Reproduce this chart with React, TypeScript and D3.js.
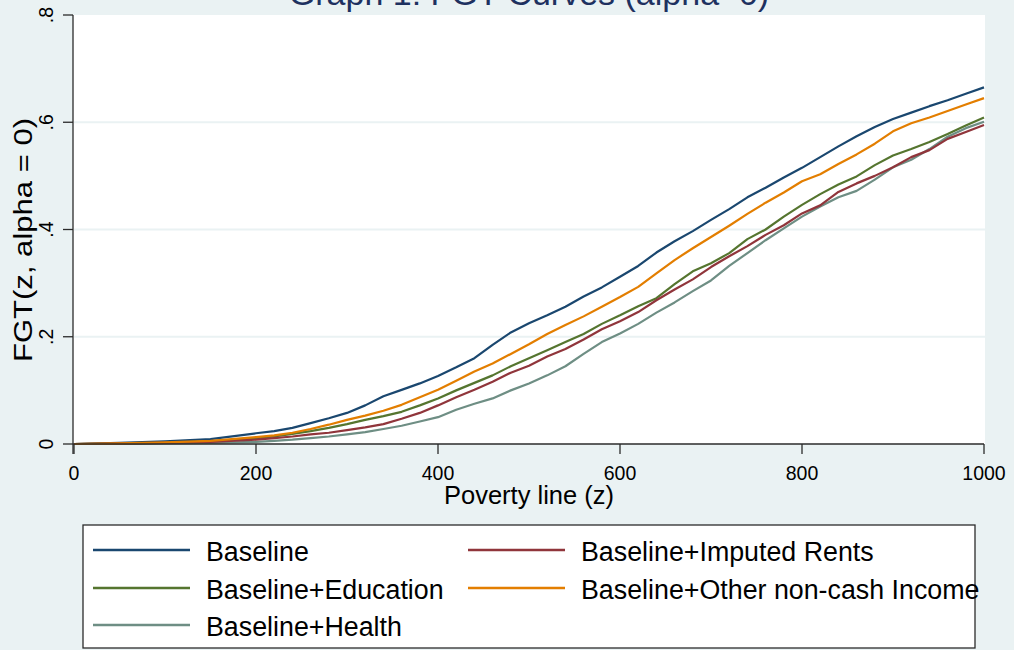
import React from "react";
import * as d3 from "d3";

const xValues = [0, 50, 100, 150, 200, 220, 240, 260, 280, 300, 320, 340, 360, 380, 400, 420, 440, 460, 480, 500, 520, 540, 560, 580, 600, 620, 640, 660, 680, 700, 720, 740, 760, 780, 800, 820, 840, 860, 880, 900, 920, 940, 960, 980, 1000];

const baseline = [0, 0.002, 0.005, 0.009, 0.02, 0.024, 0.03, 0.039, 0.048, 0.058, 0.072, 0.089, 0.101, 0.113, 0.127, 0.143, 0.16, 0.185, 0.208, 0.225, 0.24, 0.256, 0.275, 0.292, 0.312, 0.332, 0.357, 0.378, 0.397, 0.418, 0.438, 0.46, 0.478, 0.497, 0.515, 0.535, 0.555, 0.574, 0.591, 0.606, 0.618, 0.63, 0.641, 0.653, 0.665];
const imputedRents = [0, 0.001, 0.002, 0.004, 0.008, 0.011, 0.014, 0.018, 0.021, 0.026, 0.031, 0.037, 0.047, 0.058, 0.072, 0.087, 0.101, 0.116, 0.133, 0.146, 0.163, 0.177, 0.195, 0.214, 0.229, 0.246, 0.268, 0.288, 0.307, 0.33, 0.35, 0.369, 0.39, 0.408, 0.43, 0.445, 0.47, 0.486, 0.5, 0.516, 0.535, 0.548, 0.569, 0.582, 0.595];
const education = [0, 0.001, 0.002, 0.005, 0.011, 0.014, 0.019, 0.024, 0.03, 0.037, 0.045, 0.052, 0.06, 0.072, 0.085, 0.1, 0.114, 0.128, 0.145, 0.16, 0.175, 0.19, 0.205, 0.224, 0.24, 0.257, 0.272, 0.298, 0.322, 0.337, 0.356, 0.382, 0.4, 0.424, 0.446, 0.466, 0.484, 0.499, 0.52, 0.538, 0.55, 0.563, 0.578, 0.594, 0.609];
const otherNonCash = [0, 0.001, 0.003, 0.006, 0.013, 0.016, 0.021, 0.028, 0.036, 0.045, 0.053, 0.062, 0.073, 0.087, 0.101, 0.118, 0.135, 0.15, 0.168, 0.186, 0.205, 0.222, 0.238, 0.256, 0.274, 0.293, 0.318, 0.343, 0.365, 0.386, 0.407, 0.429, 0.45, 0.469, 0.49, 0.503, 0.522, 0.54, 0.56, 0.583, 0.598, 0.609, 0.621, 0.633, 0.645];
const health = [0, 0, 0.001, 0.002, 0.004, 0.006, 0.008, 0.011, 0.014, 0.018, 0.022, 0.028, 0.034, 0.042, 0.05, 0.064, 0.075, 0.085, 0.1, 0.113, 0.128, 0.145, 0.168, 0.19, 0.206, 0.224, 0.245, 0.264, 0.285, 0.305, 0.332, 0.356, 0.38, 0.402, 0.424, 0.443, 0.46, 0.472, 0.493, 0.516, 0.53, 0.55, 0.573, 0.589, 0.601];

const seriesNames = ["Baseline", "Baseline+Imputed Rents", "Baseline+Education", "Baseline+Other non-cash Income", "Baseline+Health"];
const seriesColors = ["#1a476f", "#90353b", "#55752f", "#e37e00", "#6e8e84"];
const seriesValues = [baseline, imputedRents, education, otherNonCash, health];
const drawOrder = [0, 2, 4, 1, 3];

const xTicks = [0, 200, 400, 600, 800, 1000];
const yTicks = [0, 0.2, 0.4, 0.6, 0.8];
const yTickLabels = ["0", ".2", ".4", ".6", ".8"];
const gridTicks = [0.2, 0.4, 0.6];

const titleText = "Graph 1: FGT Curves (alpha=0)";
const xTitle = "Poverty line (z)";
const yTitle = "FGT(z, alpha = 0)";

export default function App() {
  const W = 1014;
  const H = 650;
  const x = d3.scaleLinear().domain([0, 1000]).range([74, 984]);
  const y = d3.scaleLinear().domain([0, 0.8]).range([444, 15]);
  const line = d3
    .line<[number, number]>()
    .x((d) => x(d[0]))
    .y((d) => y(d[1]));

  const font = "'Liberation Sans', Arial, Helvetica, sans-serif";
  const axisColor = "#2b2b2b";

  const legendItems = [
    { i: 0, col: 0, row: 0 },
    { i: 1, col: 1, row: 0 },
    { i: 2, col: 0, row: 1 },
    { i: 3, col: 1, row: 1 },
    { i: 4, col: 0, row: 2 },
  ];
  const colX = [93, 468];
  const rowY = [550, 588, 625];

  return (
    <div style={{ position: "absolute", left: 0, top: 0, width: W, height: H }}>
      <svg width={W} height={H} style={{ display: "block" }} fontFamily={font}>
        <rect x={0} y={0} width={W} height={H} fill="#eaf2f3" />
        <text x={529} y={4.5} textAnchor="middle" fontSize={34} fill="#1e3160">
          {titleText}
        </text>
        <rect x={73} y={y(0.8)} width={x(1000) + 1 - 73} height={y(0) - y(0.8)} fill="#ffffff" />
        {gridTicks.map((t) => (
          <line key={t} x1={74} x2={x(1000) + 1} y1={y(t)} y2={y(t)} stroke="#eaf2f3" strokeWidth={2} />
        ))}
        {drawOrder.map((si) => (
          <path
            key={si}
            d={line(xValues.map((xv, k) => [xv, seriesValues[si][k]]) as [number, number][]) || ""}
            fill="none"
            stroke={seriesColors[si]}
            strokeWidth={2.2}
            strokeLinejoin="round"
          />
        ))}
        <line x1={73} x2={73} y1={y(0.8)} y2={y(0) + 10} stroke={axisColor} strokeWidth={1.3} />
        {yTicks.map((t, k) => (
          <g key={t}>
            <line x1={63} x2={73} y1={y(t)} y2={y(t)} stroke={axisColor} strokeWidth={1.3} />
            <text
              transform={`translate(53,${y(t)}) rotate(-90)`}
              textAnchor="middle"
              fontSize={19.5}
              fill="#000"
            >
              {yTickLabels[k]}
            </text>
          </g>
        ))}
        <text
          transform={`translate(31.5,240) rotate(-90)`}
          textAnchor="middle"
          fontSize={25}
          fill="#000"
          textLength={244}
          lengthAdjust="spacingAndGlyphs"
        >
          {yTitle}
        </text>
        <line x1={73} x2={x(1000)} y1={y(0)} y2={y(0)} stroke={axisColor} strokeWidth={1.3} />
        {xTicks.map((t) => (
          <g key={t}>
            <line x1={x(t)} x2={x(t)} y1={y(0)} y2={y(0) + 10} stroke={axisColor} strokeWidth={1.3} />
            <text x={x(t)} y={480} textAnchor="middle" fontSize={19.5} fill="#000">
              {t}
            </text>
          </g>
        ))}
        <text x={529} y={504} textAnchor="middle" fontSize={25.5} fill="#000">
          {xTitle}
        </text>
        <rect x={83} y={525} width={892} height={123} fill="#ffffff" stroke={axisColor} strokeWidth={1.3} />
        {legendItems.map((it) => (
          <g key={it.i}>
            <line
              x1={colX[it.col]}
              x2={colX[it.col] + 97}
              y1={rowY[it.row]}
              y2={rowY[it.row]}
              stroke={seriesColors[it.i]}
              strokeWidth={2.4}
            />
            <text x={colX[it.col] + 113} y={rowY[it.row] + 10.5} fontSize={26.8} fill="#000">
              {seriesNames[it.i]}
            </text>
          </g>
        ))}
      </svg>
    </div>
  );
}
